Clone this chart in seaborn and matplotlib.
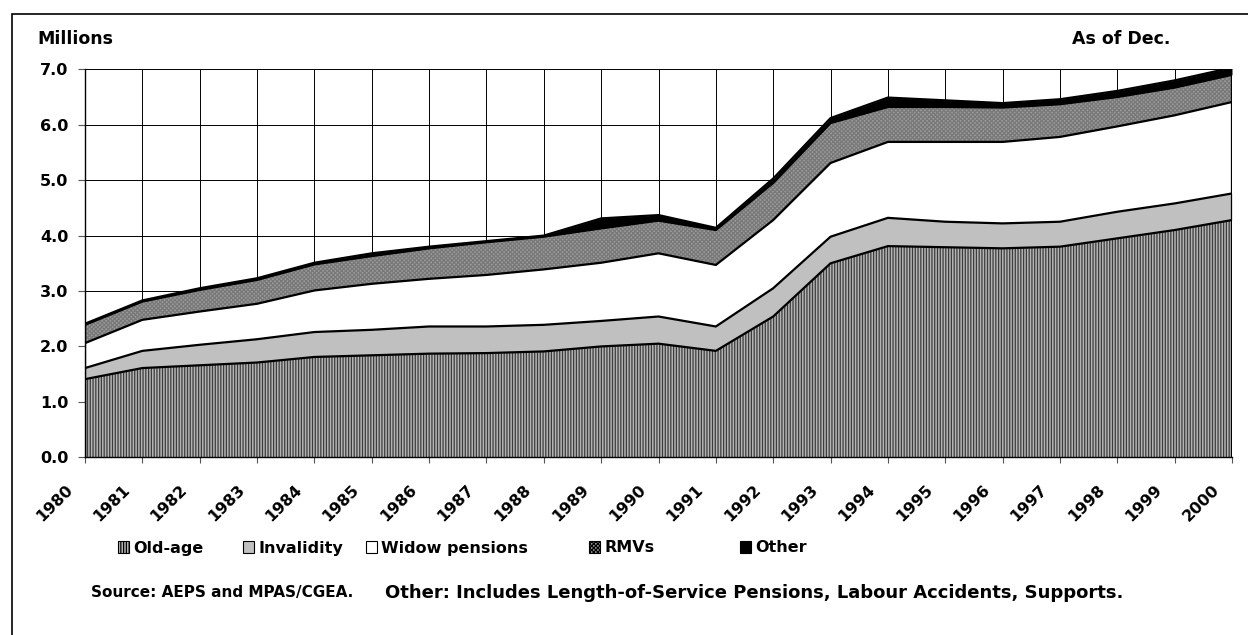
import numpy as np
import matplotlib
matplotlib.use("Agg")
import matplotlib.pyplot as plt
from matplotlib.patches import Patch, Rectangle
from matplotlib.transforms import ScaledTranslation
import seaborn as sns
import pandas as pd

# Pensions by type, millions, as of December
years = list(range(1980, 2001))
old_age = [1.41, 1.61, 1.66, 1.71, 1.81, 1.84, 1.87, 1.88, 1.91, 2.00, 2.05,
           1.92, 2.54, 3.50, 3.81, 3.79, 3.77, 3.80, 3.95, 4.10, 4.28]
invalidity = [0.20, 0.31, 0.37, 0.42, 0.45, 0.46, 0.49, 0.48, 0.48, 0.46, 0.49,
              0.44, 0.51, 0.48, 0.51, 0.46, 0.45, 0.45, 0.48, 0.48, 0.48]
widow = [0.45, 0.56, 0.60, 0.64, 0.75, 0.83, 0.86, 0.93, 1.00, 1.05, 1.14,
         1.11, 1.23, 1.33, 1.37, 1.44, 1.47, 1.53, 1.54, 1.59, 1.65]
rmvs = [0.33, 0.33, 0.39, 0.43, 0.47, 0.50, 0.55, 0.59, 0.59, 0.62, 0.59,
        0.63, 0.67, 0.72, 0.63, 0.63, 0.62, 0.59, 0.53, 0.50, 0.49]
other = [0.02, 0.02, 0.03, 0.03, 0.03, 0.05, 0.03, 0.02, 0.02, 0.18, 0.10,
         0.04, 0.08, 0.09, 0.17, 0.12, 0.08, 0.09, 0.11, 0.13, 0.13]

labels = ["Old-age", "Invalidity", "Widow pensions", "RMVs", "Other"]
# face colour, hatch, hatch colour
styles = [("#b4b4b4", "||||||", "#3c3c3c"),
          ("#c0c0c0", None, "#c0c0c0"),
          ("white", None, "white"),
          ("#9c9c9c", "xxxxxxxx", "#787878"),
          ("black", None, "black")]

W, H = 1248, 635
FS = 11.5

sns.set_style("white")
plt.rcParams["font.family"] = ["DejaVu Sans"]
plt.rcParams["font.weight"] = "bold"
plt.rcParams["text.color"] = "black"
plt.rcParams["xtick.color"] = "#555555"
plt.rcParams["ytick.color"] = "#555555"
plt.rcParams["xtick.labelcolor"] = "black"
plt.rcParams["ytick.labelcolor"] = "black"
plt.rcParams["hatch.linewidth"] = 0.9

fig = plt.figure(figsize=(W / 100, H / 100), dpi=100)
ax = fig.add_axes([85 / W, 1 - 457.3 / H, (1232 - 85) / W, (457.3 - 69.3) / H])

# grid first, under the areas
ax.set_axisbelow(True)
ax.grid(True, color="black", linewidth=0.7)

series = [old_age, invalidity, widow, rmvs, other]
cum = np.cumsum(np.array(series), axis=0)
bottom = np.zeros(len(years))
for i, lab in enumerate(labels):
    face, hatch, hcol = styles[i]
    ax.fill_between(years, bottom, cum[i], facecolor=face, hatch=hatch,
                    edgecolor=hcol, linewidth=0, zorder=2)
    bottom = cum[i]

# boundary lines drawn with seaborn
df = pd.DataFrame({"year": years * 5,
                   "top": np.concatenate(cum),
                   "layer": sum([[l] * len(years) for l in labels], [])})
sns.lineplot(data=df, x="year", y="top", units="layer", estimator=None,
             color="black", linewidth=1.6, ax=ax, zorder=3, legend=False)
ax.plot([years[-1], years[-1]], [0, cum[-1][-1]], color="black", lw=1.6, zorder=3)
ax.plot([years[0], years[0]], [0, cum[-1][0]], color="black", lw=1.6, zorder=3)

ax.set_xlim(1980, 2000)
ax.set_ylim(0, 7)
ax.set_xticks(years)
ax.set_xticklabels([str(y) for y in years], rotation=45, ha="right",
                   va="center", rotation_mode="anchor", fontsize=FS, fontweight="bold")
ax.set_yticks(range(8))
ax.set_yticklabels([f"{v:.1f}" for v in range(8)], fontsize=FS, fontweight="bold")
ax.tick_params(axis="x", direction="out", length=4.3, width=0.8, bottom=True, pad=0)
ax.tick_params(axis="y", direction="out", length=5, width=0.8, left=True, pad=7)
shift = ScaledTranslation(-0.15, -0.24, fig.dpi_scale_trans)
for lab in ax.get_xticklabels():
    lab.set_transform(lab.get_transform() + shift)
ax.set_xlabel("")
ax.set_ylabel("")
for s in ["top", "right"]:
    ax.spines[s].set_visible(False)
for s in ["left", "bottom"]:
    ax.spines[s].set_color("black")
    ax.spines[s].set_linewidth(1.0)

fig.text(37 / W, 1 - 39 / H, "Millions", fontsize=12.5, fontweight="bold", va="center")
fig.text(1170 / W, 1 - 39 / H, "As of Dec.", fontsize=12.5, fontweight="bold",
         va="center", ha="right")

# legend entries laid out along the bottom like the original
leg_x = [118, 243, 366, 589, 740]
for i, lab in enumerate(labels):
    face, hatch, _ = styles[i]
    h = Patch(facecolor=face, hatch=hatch, edgecolor="black", linewidth=0.8)
    fig.legend([h], [lab], loc="center left",
               bbox_to_anchor=(leg_x[i] / W, 1 - 548 / H),
               frameon=False, handlelength=0.7, handleheight=0.7,
               handletextpad=0.25, borderaxespad=0, borderpad=0,
               prop={"size": FS, "weight": "bold"})

fig.text(91 / W, 1 - 593 / H, "Source: AEPS and MPAS/CGEA.", fontsize=11,
         fontweight="bold", va="center")
fig.text(385 / W, 1 - 593 / H,
         "Other: Includes Length-of-Service Pensions, Labour Accidents, Supports.",
         fontsize=13, fontweight="bold", va="center")

# outer frame of the chart object
fig.patches.append(Rectangle((12 / W, -0.2), 1.2, 1.2 - 14 / H,
                             transform=fig.transFigure, fill=False, edgecolor="black",
                             linewidth=1.2, clip_on=False))

fig.savefig("out.png", dpi=100)
